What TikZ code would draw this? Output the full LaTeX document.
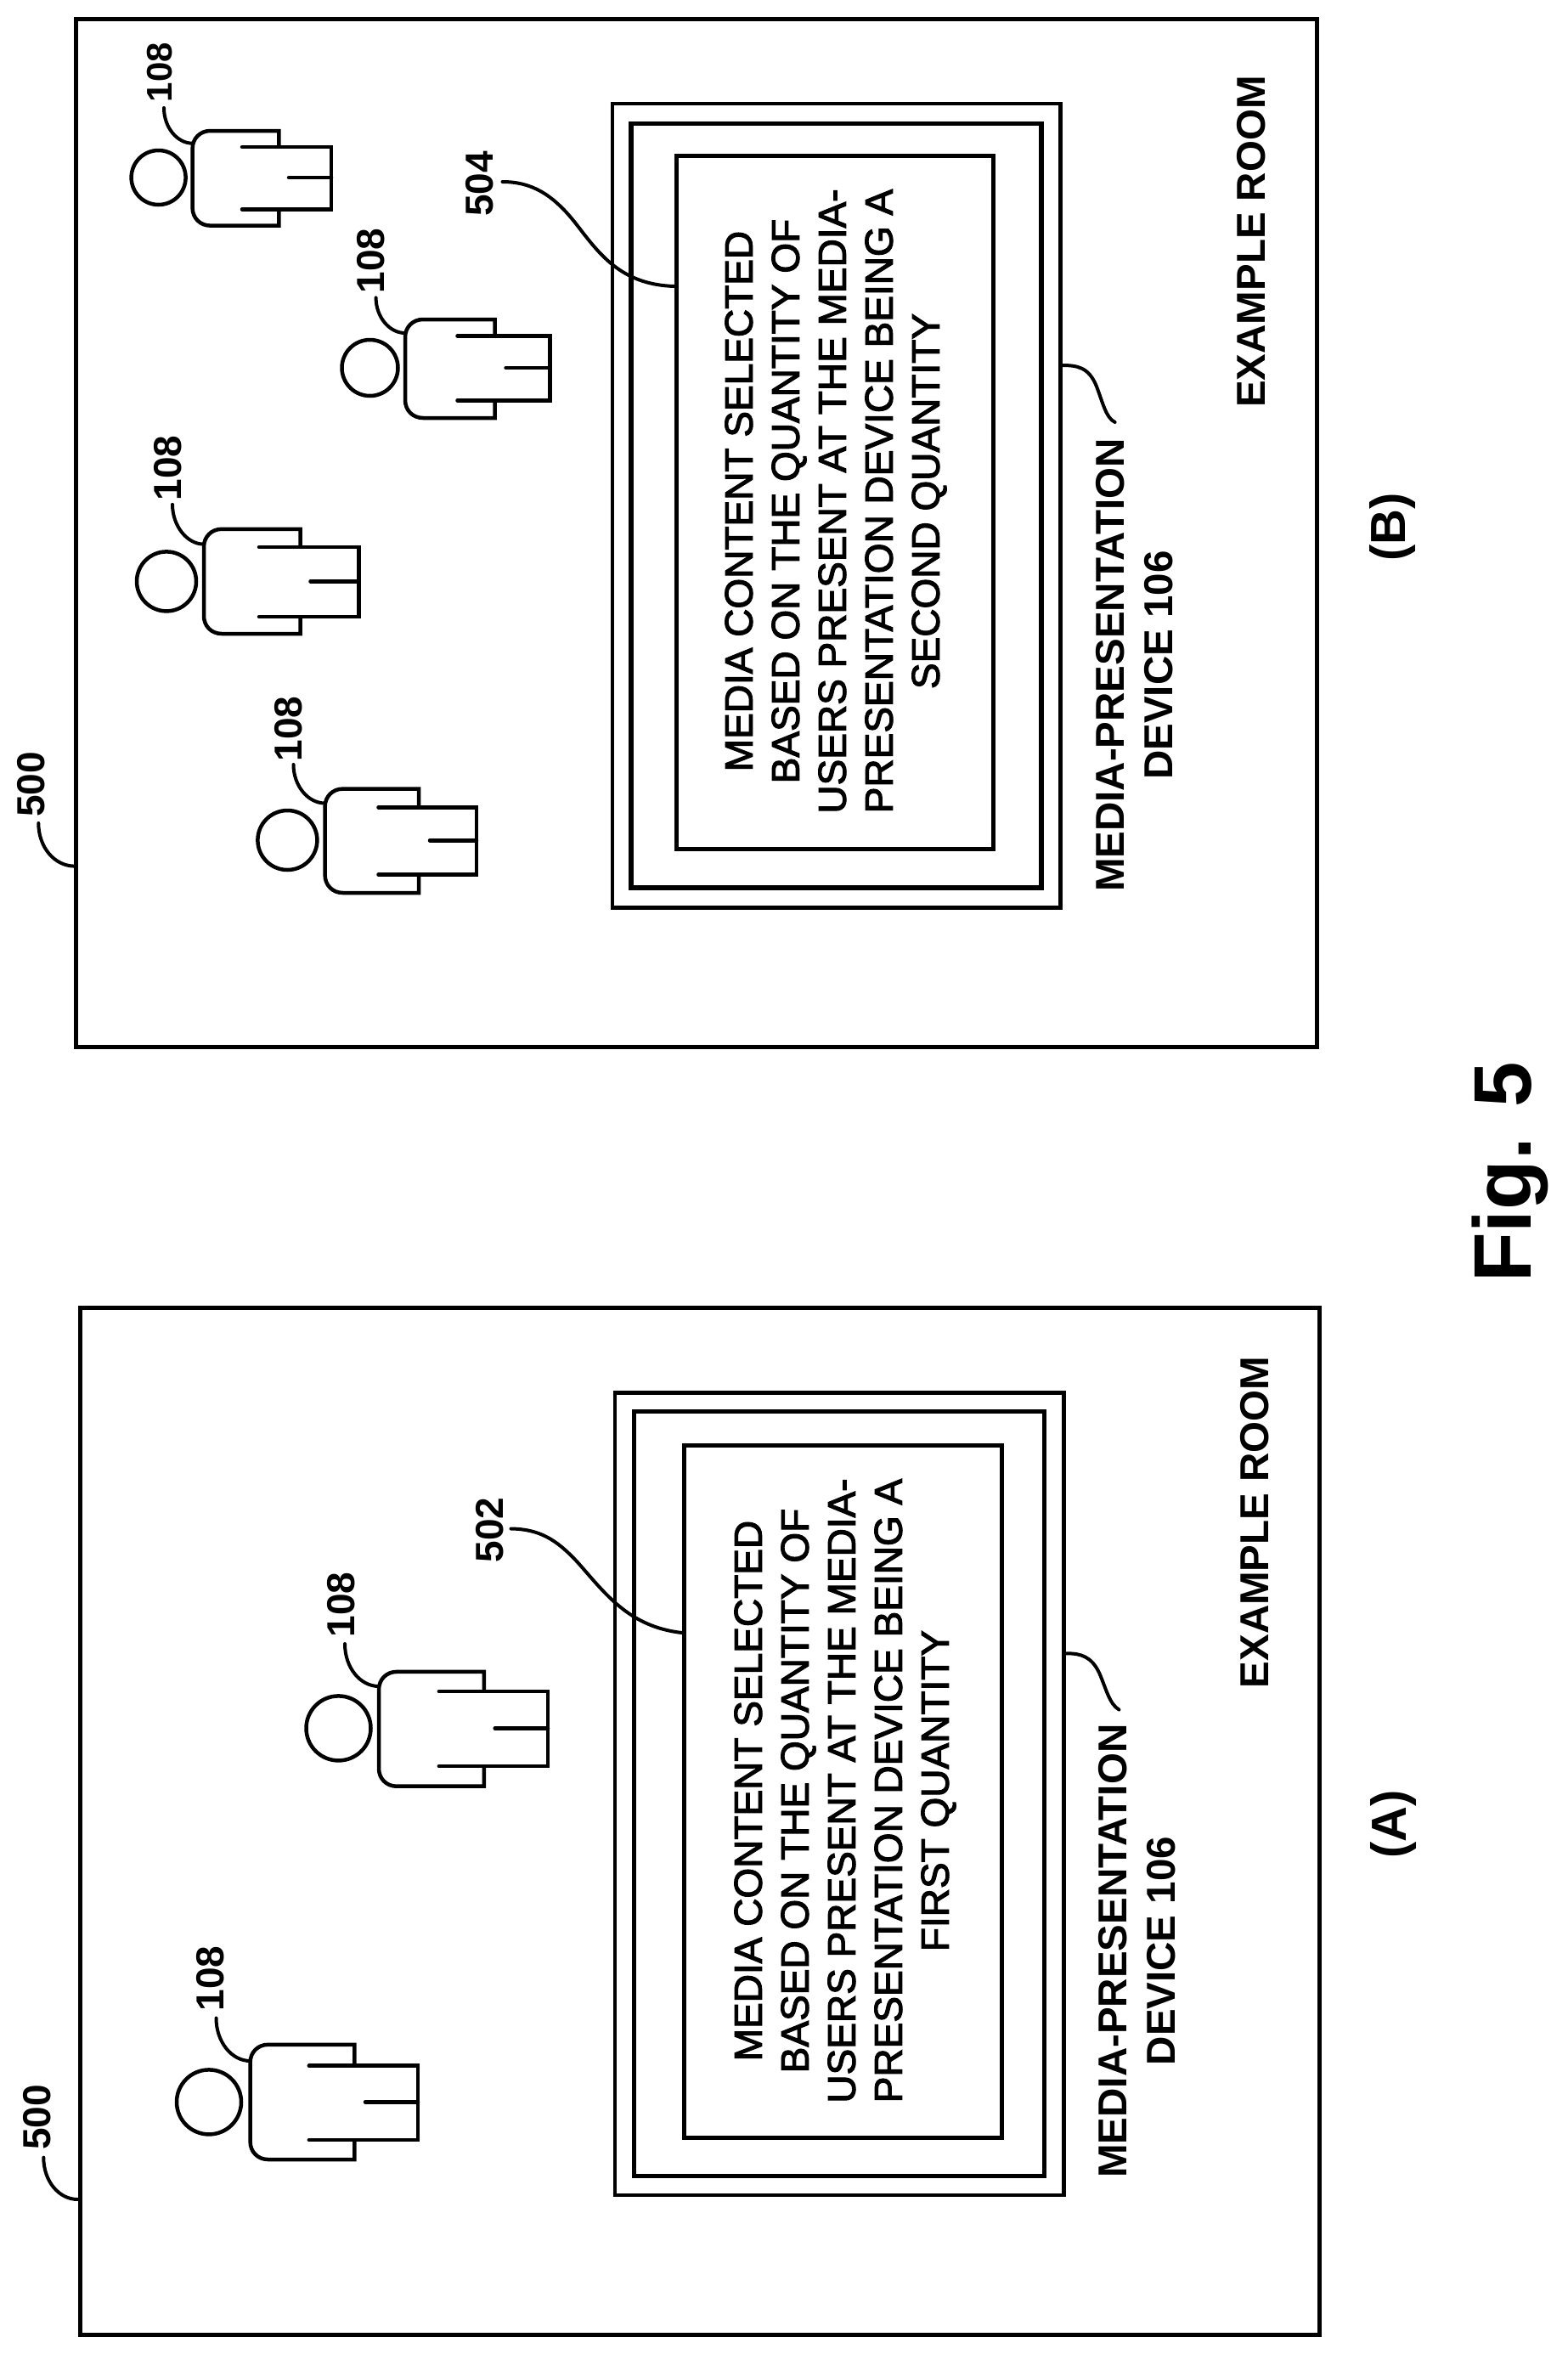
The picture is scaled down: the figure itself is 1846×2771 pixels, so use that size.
\documentclass[tikz,border=0pt]{standalone}
\usepackage{fontspec}
\setmainfont{Liberation Sans}
\newfontfamily\bodyfont[FakeBold=2.5]{Liberation Sans}
\tikzset{
  room/.style={line width=5pt},
  monouter/.style={line width=4.5pt},
  monmid/.style={line width=5.5pt},
  moninner/.style={line width=5pt},
  personline/.style={line width=4.5pt,line join=miter},
  armline/.style={line width=4.5pt,line cap=round,line join=miter},
  leader/.style={line width=4pt,line cap=round},
  head/.style={circle,draw,line width=4.5pt,inner sep=0pt},
  reflabel/.style={rotate=90,inner sep=0pt,font=\fontsize{46}{46}\selectfont\bfseries},
  smallref/.style={rotate=90,inner sep=0pt,font=\fontsize{42}{42}\selectfont\bfseries},
  boldlabel/.style={rotate=90,inner sep=0pt,align=center,font=\fontsize{47.5}{57}\selectfont\bfseries},
  bodytext/.style={rotate=90,inner sep=0pt,align=center,font=\fontsize{46}{55}\bodyfont\selectfont},
  panellabel/.style={rotate=90,inner sep=0pt,font=\fontsize{58}{58}\selectfont\bfseries},
  figlabel/.style={rotate=90,inner sep=0pt,font=\fontsize{96}{96}\selectfont\bfseries}
}
% L, T, shoulder x, B, arm top, arm bottom, arm start, R
\newcommand\personbody[8]{%
  \draw[personline] (#3,#5) -- (#3,#2) -- ({#1+21},#2)
    .. controls ({#1+9},#2) and (#1,{#2+9}) .. (#1,{#2+21})
    -- (#1,{#4-21})
    .. controls (#1,{#4-9}) and ({#1+9},#4) .. ({#1+21},#4)
    -- (#3,#4) -- (#3,#6);
  \draw[armline] (#7,#5) -- (#8,#5) -- (#8,#6) -- (#7,#6);
}
\begin{document}
\begin{tikzpicture}[x=1pt,y=-1pt]
\fill[white] (0,0) rectangle (1846,2771);
\useasboundingbox (0,0) rectangle (1846,2771);

%% ---------- Panel B ----------
\draw[room] (89.5,22.8) rectangle (1550,1232);
\draw[monouter] (721,122) rectangle (1248.5,1068.3);
\draw[monmid] (742.8,145.5) rectangle (1226,1045);
\draw[moninner] (796,183) rectangle (1169,999);

\node[bodytext] (textB) at (984,590) {MEDIA CONTENT SELECTED\\BASED ON THE QUANTITY OF\\USERS PRESENT AT THE MEDIA-\\PRESENTATION DEVICE BEING A\\SECOND QUANTITY};
\node[boldlabel] (mpdB) at (1336,783) {MEDIA-PRESENTATION\\DEVICE 106};
\node[boldlabel] (roomB) at (1473,284.6) {EXAMPLE ROOM};
\node[panellabel] (capB) at (1639,620.5) {(B)};
\node[reflabel] (r500B) at (37,923.6) {500};
\node[reflabel] (r504) at (565,216.5) {504};

\coordinate (l500Bs) at (45.3,969); \coordinate (l500Be) at (88,1019.6);
\draw[leader] (l500Bs) .. controls +(0,28) and +(-24,0) .. (l500Be);
\coordinate (l504s) at (591.5,214); \coordinate (l504e) at (794,337);
\coordinate (l504m) at (677,262);
\draw[leader] (l504s) .. controls (625,214) and (650,228) .. (l504m) .. controls (705,298) and (730,335) .. (l504e);
\coordinate (lmpdBs) at (1249.7,430); \coordinate (lmpdBm) at (1291,455); \coordinate (lmpdBe) at (1312.6,497);
\draw[leader] (lmpdBs) .. controls (1268,430) and (1282,432) .. (lmpdBm) .. controls (1298,473) and (1302,492) .. (lmpdBe);

% person 1
\node[head,minimum size=64pt] (h1) at (186.6,209) {};
\personbody{226.6}{154}{328.4}{265.6}{173}{246.4}{285}{390}
\draw[armline] (340,209) -- (390,209);
\node[smallref] (p1) at (188,85) {108};
\coordinate (l1s) at (193,127); \coordinate (l1e) at (226.6,168.7);
\draw[leader] (l1s) .. controls +(0,23) and +(-18,0) .. (l1e);
% person 2
\node[head,minimum size=66pt] (h2) at (435.5,433) {};
\personbody{477}{376}{582.7}{492}{395.5}{471.4}{538.5}{647.5}
\draw[armline] (595.6,433) -- (647.5,433);
\node[reflabel] (p2) at (437,307) {108};
\coordinate (l2s) at (442.6,350.4); \coordinate (l2e) at (476.7,392);
\draw[leader] (l2s) .. controls +(0,23) and +(-18,0) .. (l2e);
% person 3
\node[head,minimum size=70pt] (h3) at (196,684.4) {};
\personbody{240}{622.8}{353.7}{746}{644}{726}{305}{422.6}
\draw[armline] (365.5,684.4) -- (422.6,684.4);
\node[reflabel] (p3) at (198,551) {108};
\coordinate (l3s) at (203,593.8); \coordinate (l3e) at (240,640.6);
\draw[leader] (l3s) .. controls +(0,25) and +(-20,0) .. (l3e);
% person 4
\node[head,minimum size=70pt] (h4) at (338.4,989) {};
\personbody{382.6}{928.6}{493.2}{1051}{950.4}{1029.5}{445.5}{561}
\draw[armline] (506,989.3) -- (561,989.3);
\node[reflabel] (p4) at (340,858) {108};
\coordinate (l4s) at (345.5,900); \coordinate (l4e) at (382.6,945.5);
\draw[leader] (l4s) .. controls +(0,25) and +(-20,0) .. (l4e);

%% ---------- Panel A ----------
\draw[room] (94,1539.7) rectangle (1553.4,2748);
\draw[monouter] (724,1639.3) rectangle (1252.6,2584);
\draw[monmid] (746.3,1661.6) rectangle (1229.6,2561.3);
\draw[moninner] (805,1701) rectangle (1179.6,2516);

\node[bodytext] (textA) at (995,2108) {MEDIA CONTENT SELECTED\\BASED ON THE QUANTITY OF\\USERS PRESENT AT THE MEDIA-\\PRESENTATION DEVICE BEING A\\FIRST QUANTITY};
\node[boldlabel] (mpdA) at (1339,2296.6) {MEDIA-PRESENTATION\\DEVICE 106};
\node[boldlabel] (roomA) at (1477.4,1792) {EXAMPLE ROOM};
\node[panellabel] (capA) at (1640,2147.6) {(A)};
\node[reflabel] (r500A) at (43.3,2492.5) {500};
\node[reflabel] (r502) at (577,1801) {502};

\coordinate (l500As) at (51.3,2539.7); \coordinate (l500Ae) at (91.5,2589);
\draw[leader] (l500As) .. controls +(0,28) and +(-22,0) .. (l500Ae);
\coordinate (l502s) at (601.5,1799.5); \coordinate (l502m) at (680,1839); \coordinate (l502e) at (803,1922);
\draw[leader] (l502s) .. controls (635,1800) and (655,1812) .. (l502m) .. controls (712,1875) and (740,1915) .. (l502e);
\coordinate (lmpdAs) at (1255.5,1946.4); \coordinate (lmpdAm) at (1294,1969); \coordinate (lmpdAe) at (1317.4,2012.5);
\draw[leader] (lmpdAs) .. controls (1272,1946) and (1285,1950) .. (lmpdAm) .. controls (1302,1987) and (1306,2006) .. (lmpdAe);

% person 5
\node[head,minimum size=76pt] (h5) at (398.5,2034.4) {};
\personbody{446}{1967.9}{569.8}{2102.7}{1991}{2079}{516.8}{645}
\draw[armline] (582.7,2034.4) -- (645,2034.4);
\node[reflabel] (p5) at (401.4,1889) {108};
\coordinate (l5s) at (406,1935); \coordinate (l5e) at (446,1985);
\draw[leader] (l5s) .. controls +(0,28) and +(-22,0) .. (l5e);
% person 6
\node[head,minimum size=76pt] (h6) at (246,2474.4) {};
\personbody{294.6}{2406.8}{417.4}{2542}{2431.6}{2519}{363.8}{492}
\draw[armline] (430,2474.4) -- (492,2474.4);
\node[reflabel] (p6) at (248,2329) {108};
\coordinate (l6s) at (254.5,2375.5); \coordinate (l6e) at (294.6,2426);
\draw[leader] (l6s) .. controls +(0,28) and +(-22,0) .. (l6e);

\node[figlabel] (fig) at (1778,1380) {Fig. 5};
\end{tikzpicture}
\end{document}
